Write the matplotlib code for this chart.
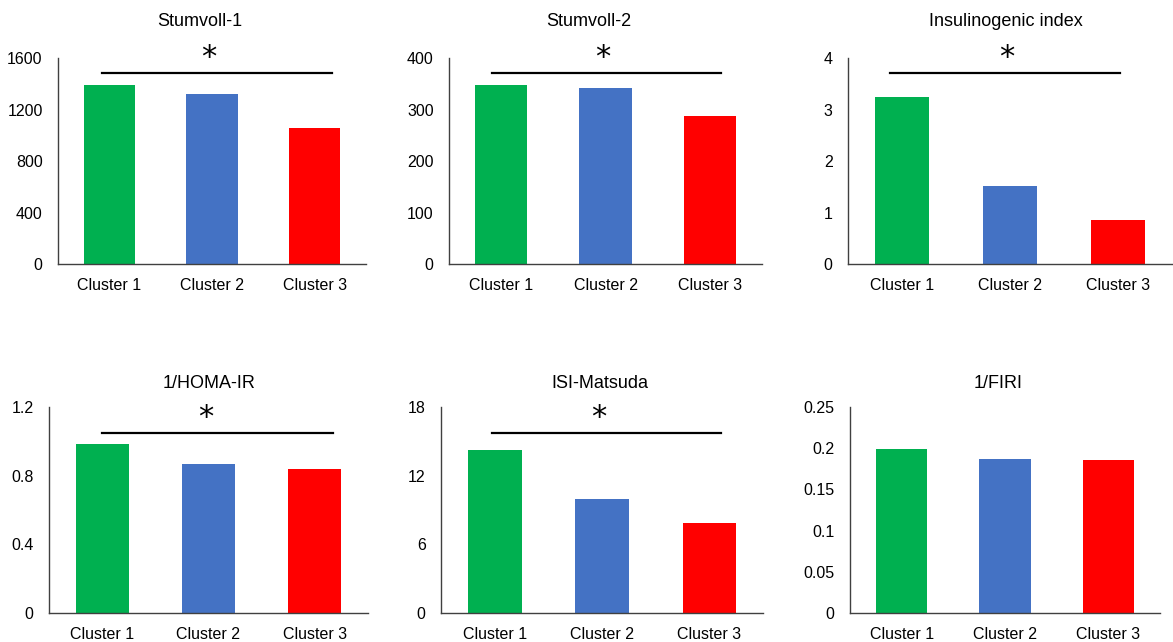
import matplotlib.pyplot as plt

plt.rcParams['font.family'] = ['Liberation Sans', 'DejaVu Sans']

clusters = ["Cluster 1", "Cluster 2", "Cluster 3"]
colors = ["#00B050", "#4472C4", "#FF0000"]

titles = ["Stumvoll-1", "Stumvoll-2", "Insulinogenic index",
          "1/HOMA-IR", "ISI-Matsuda", "1/FIRI"]

stumvoll1 = [1390, 1320, 1059]
stumvoll2 = [347, 342, 287]
insulinogenic = [3.24, 1.51, 0.85]
homa_inv = [0.987, 0.867, 0.84]
isi_matsuda = [14.25, 9.95, 7.84]
firi_inv = [0.199, 0.1866, 0.1858]

values = [stumvoll1, stumvoll2, insulinogenic, homa_inv, isi_matsuda, firi_inv]
yticks = [[0, 400, 800, 1200, 1600],
          [0, 100, 200, 300, 400],
          [0, 1, 2, 3, 4],
          [0, 0.4, 0.8, 1.2],
          [0, 6, 12, 18],
          [0, 0.05, 0.1, 0.15, 0.2, 0.25]]
ytick_labels = [["0", "400", "800", "1200", "1600"],
                ["0", "100", "200", "300", "400"],
                ["0", "1", "2", "3", "4"],
                ["0", "0.4", "0.8", "1.2"],
                ["0", "6", "12", "18"],
                ["0", "0.05", "0.1", "0.15", "0.2", "0.25"]]
significant = [True, True, True, True, True, False]

W, H = 1173, 642
fig = plt.figure(figsize=(W / 100, H / 100), dpi=100)

# axes boxes in pixels: left, top, right, bottom
boxes = [(58, 58, 366, 264), (449, 58, 762, 264), (848, 58, 1172, 264),
         (49, 407, 368, 613), (441, 407, 763, 613), (850, 407, 1160, 613)]
title_pos = [(200, 22), (589, 22), (1006, 22), (209, 383), (600, 383), (998, 383)]
sig_span = [(0.143, 0.89), (0.136, 0.869), (0.131, 0.84), (0.165, 0.889), (0.158, 0.869)]

for i in range(6):
    l, t, r, b = boxes[i]
    ax = fig.add_axes([l / W, 1 - b / H, (r - l) / W, (b - t) / H])
    ax.bar(range(3), values[i], width=0.5, color=colors)
    ax.set_xlim(-0.5, 2.5)
    ax.set_ylim(yticks[i][0], yticks[i][-1])
    ax.set_yticks(yticks[i])
    ax.set_yticklabels(ytick_labels[i])
    ax.set_xticks(range(3))
    ax.set_xticklabels(clusters)
    ax.tick_params(axis='both', length=0, labelsize=11.5, colors='#000000')
    ax.tick_params(axis='y', pad=11)
    ax.tick_params(axis='x', pad=10)
    for s in ['top', 'right']:
        ax.spines[s].set_visible(False)
    for s in ['left', 'bottom']:
        ax.spines[s].set_color('#404040')
        ax.spines[s].set_linewidth(1.0)

    tx, ty = title_pos[i]
    fig.text(tx / W, 1 - ty / H, titles[i], ha='center', va='center', fontsize=13)

    if significant[i]:
        x0, x1 = sig_span[i]
        ly = 0.927 if i < 3 else 0.876
        ax.plot([x0, x1], [ly, ly], transform=ax.transAxes, color='black',
                lw=1.6, clip_on=False)
        ax.text(0.49, ly + 0.075, "*", transform=ax.transAxes, ha='center',
                va='center', fontsize=22, family='DejaVu Sans')

plt.savefig("out.png", dpi=100)
plt.close()
